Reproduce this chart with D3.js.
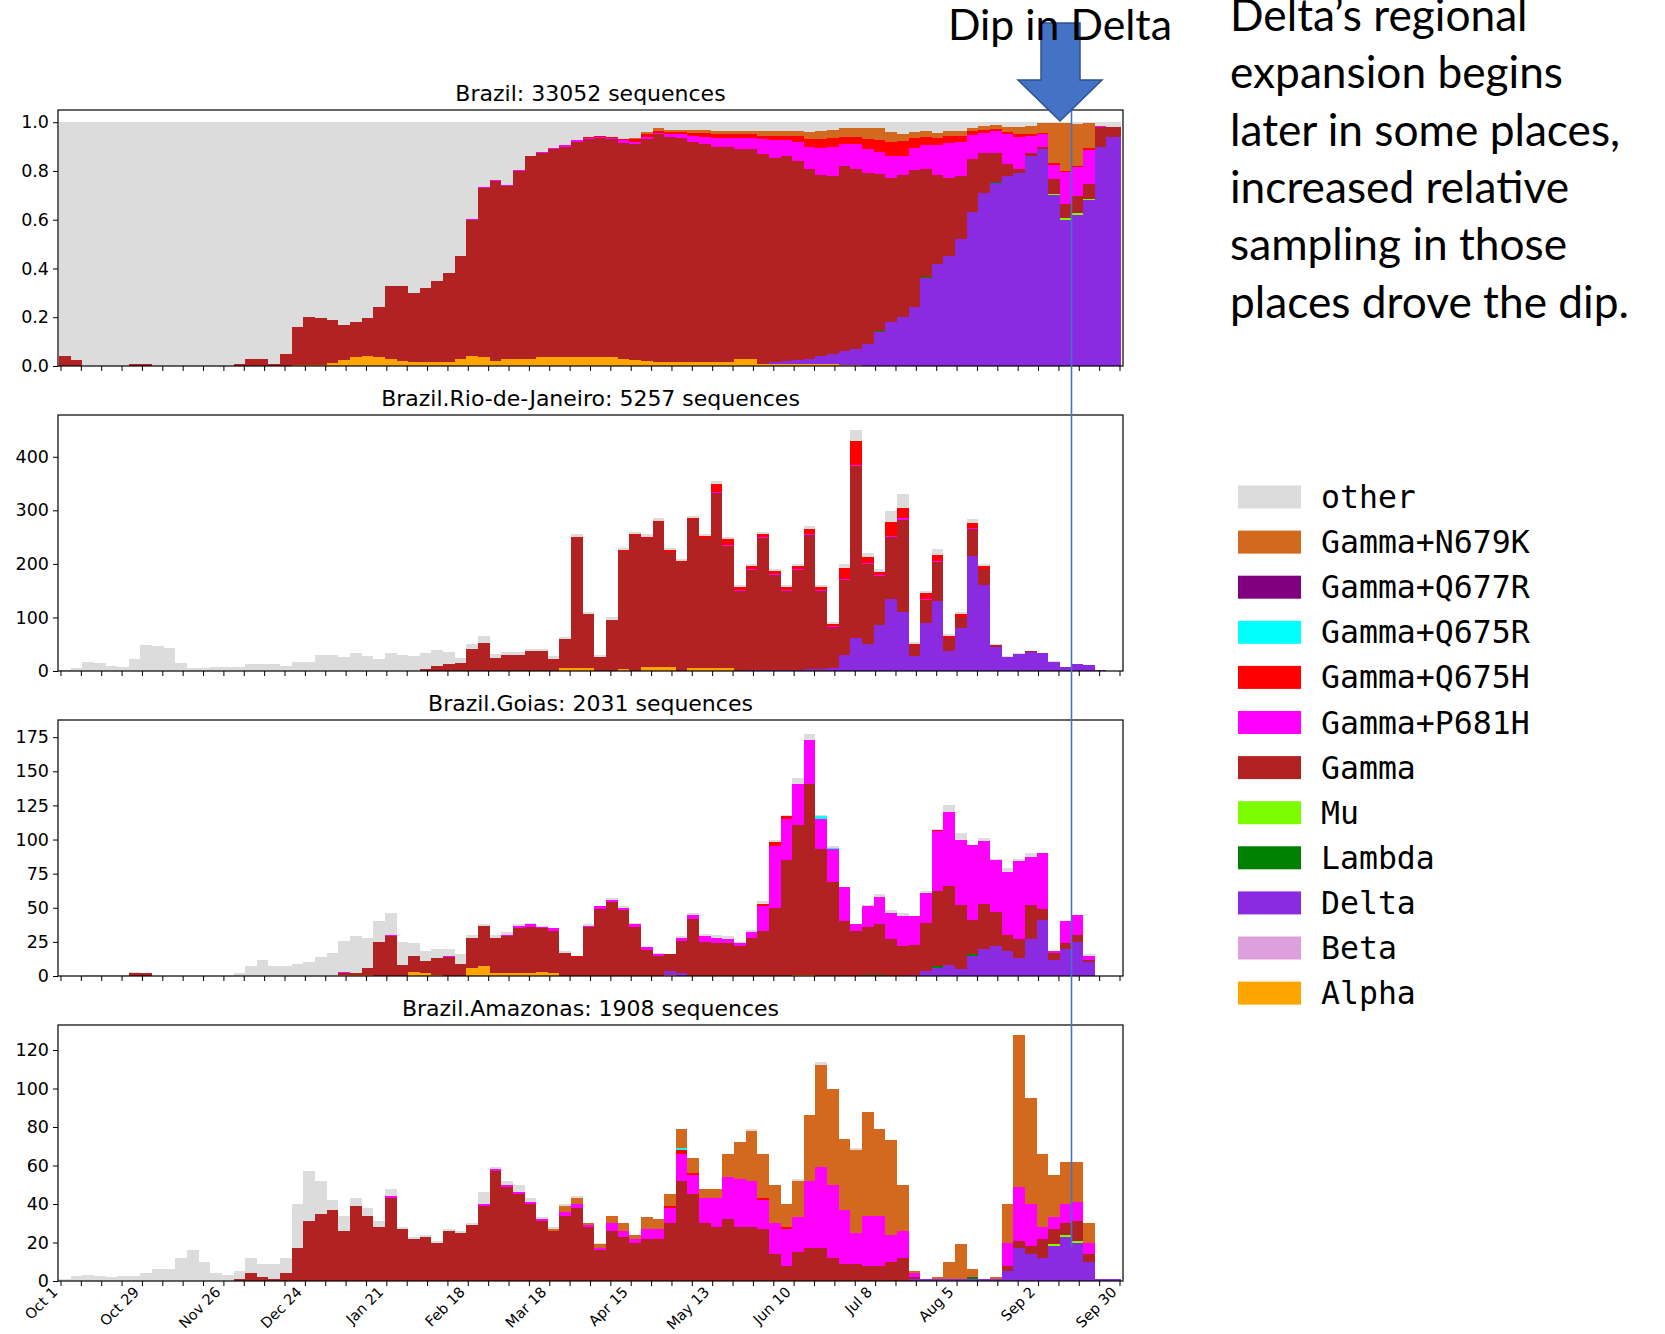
<!DOCTYPE html>
<html>
<head>
<meta charset="utf-8">
<script src="https://cdn.jsdelivr.net/npm/d3@7"></script>
<style>
  body { margin: 0; background: #fff; }
  svg { display: block; }
</style>
</head>
<body>
<div id="chart"></div>
<script>
// 4-day bins starting Oct 1 (bin k covers days 4k .. 4k+3), 91 bins
const nBins = 91, binDays = 4;

const seriesKeys = ["Alpha", "Beta", "Delta", "Lambda", "Mu", "Gamma", "Gamma+P681H", "Gamma+Q675H", "Gamma+Q675R", "Gamma+Q677R", "Gamma+N679K", "other"];
const seriesColors = ["#ffa500", "#dda0dd", "#8a2be2", "#008000", "#7cfc00", "#b22222", "#ff00ff", "#ff0000", "#00ffff", "#800080", "#d2691e", "#dcdcdc"];

const tickLabels = ["Oct 1", "Oct 29", "Nov 26", "Dec 24", "Jan 21", "Feb 18", "Mar 18", "Apr 15", "May 13", "Jun 10", "Jul 8", "Aug 5", "Sep 2", "Sep 30"];

// ---- Brazil (fractions) ----
const brTicks = [0, 0.2, 0.4, 0.6, 0.8, 1.0];
const brAlpha = [
  0,0,0,0,0,0,0,
  0,0,0,0,0,0,0,
  0,0,0,0,0,0,.004,
  .004,.005,.012,.025,.035,.04,.035,
  .03,.02,.015,.015,.015,.015,.03,
  .04,.035,.02,.03,.03,.03,.035,
  .035,.035,.035,.035,.035,.035,.03,
  .025,.02,.018,.018,.018,.018,.018,
  .018,.018,.028,.028,.01,.01,.01,
  .01,.01,.01,.01,.005,.005,0,
  0,0,0,0,0,0,0,
  0,0,0,0,0,0,0,
  0,0,0,0,0,0,0];
const brGamma = [
  .04,.025,0,0,0,0,.01,
  .01,0,0,0,0,0,0,
  0,.008,.03,.03,.01,.05,.156,
  .196,.19,.178,.145,.145,.155,.205,
  .30,.31,.285,.305,.335,.365,.42,
  .56,.695,.74,.71,.77,.83,.84,
  .853,.865,.885,.895,.9,.895,.885,
  .885,.91,.932,.922,.917,.902,.892,
  .882,.882,.862,.862,.86,.84,.84,
  .815,.78,.745,.73,.76,.74,.70,
  .645,.59,.58,.565,.445,.365,.32,
  .26,.215,.165,.12,.05,.02,.015,
  .01,.06,.06,.07,.06,.08,.04];
const brDelta = [
  0,0,0,0,0,0,0,
  0,0,0,0,0,0,0,
  0,0,0,0,0,0,0,
  0,0,0,0,0,0,0,
  0,0,0,0,0,0,0,
  0,0,0,0,0,0,0,
  0,0,0,0,0,0,0,
  0,0,0,0,0,0,0,
  0,0,0,0,0,.005,.01,
  .015,.02,.03,.04,.055,.065,.09,
  .14,.18,.20,.24,.36,.42,.45,
  .52,.63,.71,.75,.78,.79,.86,
  .89,.70,.60,.62,.68,.90,.94];
const brP681H = [
  0,0,0,0,0,0,0,
  0,0,0,0,0,0,0,
  0,0,0,0,0,0,0,
  0,0,0,0,0,0,0,
  0,0,0,0,0,0,.003,
  .003,.003,.003,.003,.003,.003,.003,
  .005,.005,.005,.005,.005,.005,.01,
  .01,.01,.005,.01,.015,.025,.03,
  .035,.035,.045,.045,.06,.07,.065,
  .08,.09,.11,.12,.09,.1,.1,
  .09,.09,.08,.09,.1,.12,.14,
  .14,.1,.08,.09,.12,.13,.07,
  .05,.06,.13,.12,.14,.005,0];
const brQ675H = [
  0,0,0,0,0,0,0,
  0,0,0,0,0,0,0,
  0,0,0,0,0,0,0,
  0,0,0,0,0,0,0,
  0,0,0,0,0,0,0,
  0,0,0,0,0,0,0,
  .003,.003,.003,.003,.003,.005,.005,
  .01,.01,.01,.01,.01,.012,.015,
  .015,.015,.015,.015,.015,.02,.02,
  .025,.03,.035,.035,.03,.03,.04,
  .05,.06,.06,.04,.03,.03,.03,
  .025,.015,.015,.01,.01,.01,.005,
  .005,.005,.005,.005,.01,0,0];
const brN679K = [
  0,0,0,0,0,0,0,
  0,0,0,0,0,0,0,
  0,0,0,0,0,0,0,
  0,0,0,0,0,0,0,
  0,0,0,0,0,0,0,
  0,0,0,0,0,0,0,
  0,0,0,0,0,0,0,
  .005,.01,.01,.01,.01,.012,.015,
  .015,.015,.015,.015,.02,.02,.02,
  .02,.03,.035,.035,.035,.035,.045,
  .05,.04,.03,.025,.025,.02,.02,
  .02,.015,.015,.015,.02,.03,.035,
  .04,.165,.195,.17,.1,0,0];
const brMu = [[85, .006], [86, .006], [87, .006], [88, .006]];
const brLambda = [[70, .003], [72, .003], [74, .003], [76, .003], [78, .003], [80, .003]];

// ---- Rio de Janeiro (counts) ----
const rjTicks = [0, 100, 200, 300, 400];
const rjOther = [
  1,5,16,15,9,7,22,
  48,47,43,15,6,6,7,
  7,8,13,13,13,9,16,
  17,30,30,26,33,28,22,
  34,30,28,29,30,22,10,
  8,13,7,5,5,5,5,
  5,3,5,3,3,4,4,
  4,4,4,4,4,4,4,
  6,4,4,4,4,4,4,
  4,4,4,4,8,20,8,
  5,20,25,3,5,10,4,
  4,6,4,1,1,1,1,
  1,1,0,0,0,0,0];
const rjGamma = [
  0,0,0,0,0,0,0,
  0,0,0,0,0,0,0,
  0,0,0,0,0,0,0,
  0,0,0,0,0,0,0,
  0,0,0,4,10,14,15,
  42,52,25,30,30,37,37,
  23,55,243,102,27,96,220,
  254,242,271,216,203,277,243,
  326,228,149,188,248,177,147,
  187,251,146,76,140,320,150,
  93,115,172,20,43,73,24,
  20,50,30,4,1,1,1,
  0,0,0,0,0,0,0];
const rjDelta = [
  0,0,0,0,0,0,0,
  0,0,0,0,0,0,0,
  0,0,0,0,0,0,0,
  0,0,0,0,0,0,0,
  0,0,0,0,0,0,0,
  0,0,0,0,0,0,0,
  0,0,0,0,0,0,0,
  0,0,0,0,0,0,0,
  0,0,0,1,1,2,2,
  2,3,4,6,30,62,50,
  85,135,110,28,90,130,38,
  80,215,160,45,26,31,36,
  33,17,8,13,12,1,0];
const rjQ675H = [
  0,0,0,0,0,0,0,
  0,0,0,0,0,0,0,
  0,0,0,0,0,0,0,
  0,0,0,0,0,0,0,
  0,0,0,0,0,0,0,
  0,0,0,0,0,0,0,
  0,0,2,0,0,0,2,
  2,2,3,3,3,3,3,
  15,10,5,5,5,5,5,
  5,10,4,4,20,45,10,
  5,25,20,3,10,12,3,
  5,10,5,0,0,0,0,
  0,0,0,0,0,0,0];
const rjP681H = [[56,2],[57,2],[58,2],[59,2],[60,2],[61,2],[62,2],[63,2],[64,2],[65,2],[66,2],[67,2],[68,3],[69,2],[70,2],[71,3],[72,3],[74,2],[75,2],[77,1],[78,2],[79,1]];
const rjAlpha = [[43,5],[44,5],[45,5],[48,4],[50,7],[51,7],[52,7],[54,6],[55,6],[56,6],[57,6]];

// ---- Goias (counts) ----
const goTicks = [0, 25, 50, 75, 100, 125, 150, 175];
const goOther = [
  0,0,1,1,1,1,1,
  0,0,0,0,0,0,0,
  0,2,7,12,7,7,9,
  10,14,17,23,27,22,15,
  16,17,9,7,7,5,7,
  2,1,2,2,1,1,1,
  0,1,0,1,0,1,1,
  1,0,1,0,1,1,2,
  2,2,1,2,2,2,1,
  4,4,1,1,0,0,1,
  2,2,2,0,1,1,5,
  5,0,2,1,3,2,3,
  0,0,0,0,1,0,0];
const goGamma = [
  0,0,0,0,0,0,2,
  2,0,0,0,0,0,0,
  0,0,0,0,0,0,0,
  0,0,0,1,1,5,25,
  29,8,12,9,12,14,9,
  22,30,26,27,33,34,32,
  31,17,14,36,49,54,48,
  36,19,15,12,24,42,25,
  24,24,22,28,33,50,85,
  110,140,93,69,40,33,35,
  37,27,22,22,35,55,58,
  47,25,33,25,12,14,25,
  8,5,4,5,2,0,0];
const goP681H = [
  0,0,0,0,0,0,0,
  0,0,0,0,0,0,0,
  0,0,0,0,0,0,0,
  0,0,0,1,0,0,0,
  1,0,0,0,0,1,0,
  0,0,0,1,2,2,1,
  2,0,0,1,2,2,2,
  2,2,1,0,2,3,4,
  4,3,2,4,18,45,30,
  30,32,22,24,25,5,15,
  20,19,22,21,22,44,54,
  48,55,46,38,46,57,35,
  41,1,16,15,3,0,0];
const goDelta = [
  0,0,0,0,0,0,0,
  0,0,0,0,0,0,0,
  0,0,0,0,0,0,0,
  0,0,0,0,0,0,0,
  0,0,0,0,0,0,0,
  0,0,0,0,0,0,0,
  0,0,0,0,0,0,0,
  0,0,0,3,2,0,0,
  0,0,0,0,0,0,0,
  0,0,0,0,0,0,0,
  0,0,0,1,4,6,8,
  5,15,20,22,18,13,27,
  41,12,20,25,10,0,0];
const goAlpha = [[24,1],[25,1],[26,1],[30,3],[31,2],[32,1],[35,6],[36,7],[37,2],[38,2],[39,2],[40,2],[41,3],[42,2],[52,1],[63,1],[64,1]];
const goQ675H = [[44,1],[60,2],[61,3],[62,2],[75,1]];
const goQ675R = [[65,2],[66,1]];
const goLambda = [[69,1],[70,1],[75,1],[78,1]];

// ---- Amazonas (counts) ----
const amTicks = [0, 20, 40, 60, 80, 100, 120];
const amOther = [
  1,2.5,3,2.5,2,2.5,2.5,
  4,6,6,12,16,10,4,
  3,4,8,7,8,8,23,
  26,17,5,8,4,4,3,
  4,1,1,1,1,1,1,
  1,6,1,2,4,2,1,
  1,1,1,0,1,0,0,
  0,0,0,0,0,0,0,
  0,0,0,1,0,0,0,
  1,0,2,0,0,1,0,
  0,0,0,0,0,0,0,
  0,0,0,0,0,0,0,
  0,0,0,0,0,0,0];
const amGamma = [
  0,0,0,0,0,0,0,
  0,0,0,0,0,0,0,
  0,1,4,2,1,4,17,
  31,35,37,26,39,34,28,
  43,27,22,23,20,26,25,
  29,39,57,49,45,40,31,
  26,34,38,28,16,26,23,
  20,22,22,30,52,45,30,
  28,32,28,28,27,14,8,
  15,17,17,12,9,9,8,
  8,10,12,1,0,0,0,
  0,0,0,0,3,4,4,
  10,8,6,10,4,0,0];
const amP681H = [
  0,0,0,0,0,0,0,
  0,0,0,0,0,0,0,
  0,0,0,0,0,0,0,
  0,0,0,0,0,0,0,
  1,0,0,0,0,0,0,
  0,1,1,1,1,1,1,
  0,2,2,1,1,4,3,
  2,5,5,8,14,10,13,
  15,22,25,24,15,16,19,
  18,35,42,38,28,16,26,
  26,14,14,2,0,0,0,
  0,0,0,0,12,28,22,
  6,6,10,10,6,0,0];
const amN679K = [
  0,0,0,0,0,0,0,
  0,0,0,0,0,0,0,
  0,0,0,0,0,0,0,
  0,0,0,0,0,0,0,
  0,0,0,0,0,0,0,
  0,0,0,0,0,0,0,
  1,3,3,1,2,4,4,
  2,6,5,6,10,8,5,
  5,12,19,26,23,20,12,
  19,34,53,50,37,43,54,
  45,49,24,1,0,1,9,
  18,4,0,1,20,79,55,
  38,22,22,21,10,0,0];
const amDelta = [
  0,0,0,0,0,0,0,
  0,0,0,0,0,0,0,
  0,0,0,0,0,0,0,
  0,0,0,0,0,0,0,
  0,0,0,0,0,0,0,
  0,0,0,0,0,0,0,
  0,0,0,0,0,0,0,
  0,0,0,0,0,0,0,
  0,0,0,0,0,0,0,
  0,0,0,0,0,0,0,
  0,0,0,1,1,1,1,
  1,1,1,1,5,17,14,
  12,18,23,20,10,1,1];
const amQ675H = [[52,1],[53,2],[54,1],[60,1],[62,1]];
const amQ675R = [[53,1]];
const amMu = [[85,1],[86,1],[87,1]];
const amLambda = [[78,1]];

const noteLines = ["Delta\u2019s regional", "expansion begins", "later in some places,", "increased relative", "sampling in those", "places drove the dip."];

function expand(pairs) {
  const a = new Array(nBins).fill(0);
  pairs.forEach(([k, v]) => { a[k] = v; });
  return a;
}

const panels = [
  { title: "Brazil: 33052 sequences", yMax: 1.05, ticks: brTicks, fmt: d3.format(".1f"), fraction: true,
    cols: { "Alpha": brAlpha, "Delta": brDelta, "Lambda": expand(brLambda), "Mu": expand(brMu), "Gamma": brGamma,
            "Gamma+P681H": brP681H, "Gamma+Q675H": brQ675H, "Gamma+N679K": brN679K } },
  { title: "Brazil.Rio-de-Janeiro: 5257 sequences", yMax: 478, ticks: rjTicks, fmt: d3.format("d"),
    cols: { "Alpha": expand(rjAlpha), "Delta": rjDelta, "Gamma": rjGamma, "Gamma+P681H": expand(rjP681H),
            "Gamma+Q675H": rjQ675H, "other": rjOther } },
  { title: "Brazil.Goias: 2031 sequences", yMax: 187.6, ticks: goTicks, fmt: d3.format("d"),
    cols: { "Alpha": expand(goAlpha), "Delta": goDelta, "Lambda": expand(goLambda), "Gamma": goGamma,
            "Gamma+P681H": goP681H, "Gamma+Q675H": expand(goQ675H), "Gamma+Q675R": expand(goQ675R), "other": goOther } },
  { title: "Brazil.Amazonas: 1908 sequences", yMax: 133, ticks: amTicks, fmt: d3.format("d"),
    cols: { "Delta": amDelta, "Lambda": expand(amLambda), "Mu": expand(amMu), "Gamma": amGamma,
            "Gamma+P681H": amP681H, "Gamma+Q675H": expand(amQ675H), "Gamma+Q675R": expand(amQ675R),
            "Gamma+N679K": amN679K, "other": amOther } }
];

const W = 1665, H = 1334;
const left = 58, right = 1123, panelTop0 = 110, panelStep = 305, panelH = 256;

const svg = d3.select("#chart").append("svg")
  .attr("width", W).attr("height", H)
  .style("font-family", "DejaVu Sans");
svg.append("rect").attr("width", W).attr("height", H).attr("fill", "#fff");

const x = d3.scaleLinear().domain([-0.85, 365.2]).range([left, right]);
const weekTicks = d3.range(0, 365, 7);

panels.forEach((p, i) => {
  const top = panelTop0 + i * panelStep, bottom = top + panelH;
  const y = d3.scaleLinear().domain([0, p.yMax]).range([bottom, top]);

  const rows = d3.range(nBins).map(k => {
    const r = { k };
    seriesKeys.forEach(s => { r[s] = (p.cols[s] && p.cols[s][k]) || 0; });
    if (p.fraction) r.other = Math.max(0, 1 - d3.sum(seriesKeys.slice(0, -1), s => r[s]));
    return r;
  });
  const stacked = d3.stack().keys(seriesKeys)(rows);

  const g = svg.append("g");
  const clipId = "clip" + i;
  g.append("clipPath").attr("id", clipId)
    .append("rect").attr("x", left).attr("y", top).attr("width", right - left).attr("height", panelH);

  const binX0 = k => x(k * binDays - 0.5);
  const binX1 = k => x(k === nBins - 1 ? 364.5 : k * binDays + binDays - 0.5);

  g.append("g")
    .attr("clip-path", `url(#${clipId})`)
    .attr("shape-rendering", "crispEdges")
    .selectAll("g")
    .data(stacked)
    .join("g")
    .attr("fill", (d, j) => seriesColors[j])
    .selectAll("rect")
    .data(d => d.filter(s => s[1] - s[0] > 0))
    .join("rect")
    .attr("x", s => binX0(s.data.k))
    .attr("width", s => binX1(s.data.k) - binX0(s.data.k))
    .attr("y", s => y(s[1]))
    .attr("height", s => y(s[0]) - y(s[1]));

  // y axis
  const ya = g.append("g")
    .attr("transform", `translate(${left},0)`)
    .call(d3.axisLeft(y).tickValues(p.ticks).tickFormat(p.fmt).tickSize(5).tickPadding(4));
  ya.select(".domain").remove();
  ya.selectAll("line").attr("stroke", "#000");
  ya.selectAll("text").attr("font-family", "DejaVu Sans").attr("font-size", 17.5).attr("fill", "#000");

  // x axis (weekly ticks)
  const xa = g.append("g")
    .attr("transform", `translate(0,${bottom})`)
    .call(d3.axisBottom(x).tickValues(weekTicks).tickFormat("").tickSize(5));
  xa.select(".domain").remove();
  xa.selectAll("line").attr("stroke", "#000");

  if (i === panels.length - 1) {
    g.append("g").selectAll("text")
      .data(tickLabels)
      .join("text")
      .attr("transform", (d, j) => `translate(${x(j * 28) - 2},${bottom + 12}) rotate(-45)`)
      .attr("text-anchor", "end")
      .attr("font-size", 14.5)
      .attr("fill", "#000")
      .text(d => d);
  }

  // frame
  g.append("rect")
    .attr("x", left).attr("y", top)
    .attr("width", right - left).attr("height", panelH)
    .attr("fill", "none").attr("stroke", "#000").attr("stroke-width", 1.2);

  // title
  g.append("text")
    .attr("x", (left + right) / 2).attr("y", top - 9)
    .attr("text-anchor", "middle")
    .attr("font-size", 22)
    .attr("fill", "#000")
    .text(p.title);
});

// legend (stack order reversed)
const legend = svg.append("g").attr("font-family", "DejaVu Sans Mono");
const legendKeys = seriesKeys.slice().reverse();
const legendColors = seriesColors.slice().reverse();
legendKeys.forEach((s, j) => {
  const cy = 497 + j * 45.1;
  legend.append("rect").attr("x", 1238).attr("y", cy - 11.5).attr("width", 63).attr("height", 23).attr("fill", legendColors[j]);
  legend.append("text").attr("x", 1321).attr("y", cy).attr("dominant-baseline", "central")
    .attr("font-size", 31.5).attr("fill", "#000").text(s);
});

// annotation: vertical marker line and block arrow
svg.append("line")
  .attr("x1", 1071.5).attr("x2", 1071.5).attr("y1", 100).attr("y2", 1247)
  .attr("stroke", "#4472c4").attr("stroke-width", 1.6);

svg.append("polygon")
  .attr("points", [[1041, 23], [1080, 23], [1080, 80], [1102, 80], [1060, 121], [1018, 80], [1041, 80]].map(p => p.join(",")).join(" "))
  .attr("fill", "#4472c4").attr("stroke", "#2f528f").attr("stroke-width", 1.5);

const fitText = (sel, target) => {
  sel.attr("font-size", 100);
  const w = sel.node().getComputedTextLength();
  sel.attr("font-size", 100 * target / w);
  return 100 * target / w;
};

const dip = svg.append("text").attr("x", 948).attr("y", 40)
  .attr("font-family", "Lato").attr("fill", "#000").text("Dip in Delta");
fitText(dip, 224);

const probe = svg.append("text").attr("font-family", "Lato").text(noteLines[5]);
const noteSize = fitText(probe, 399);
probe.remove();
svg.append("g").attr("font-family", "Lato").attr("font-size", noteSize).attr("fill", "#000")
  .selectAll("text").data(noteLines).join("text")
  .attr("x", 1230).attr("y", (d, j) => 31 + j * 57.3)
  .text(d => d);
</script>
</body>
</html>
